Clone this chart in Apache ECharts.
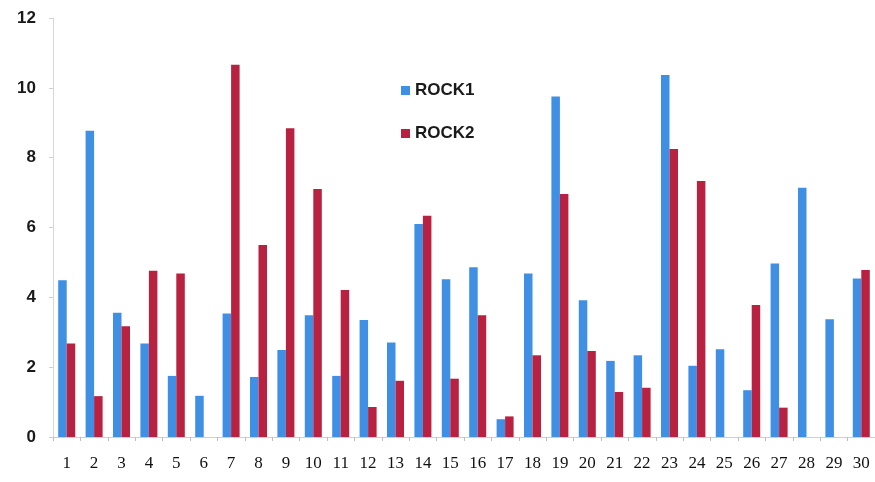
<!DOCTYPE html>
<html>
<head>
<meta charset="utf-8">
<script src="https://cdn.jsdelivr.net/npm/echarts@6/dist/echarts.min.js"></script>
<style>
  html, body { margin: 0; padding: 0; background: #fff; }
  #chart { width: 875px; height: 482px; }
</style>
</head>
<body>
<div id="chart"></div>
<script>
// Sample numbers along the x axis
const categories = ['1','2','3','4','5','6','7','8','9','10','11','12','13','14','15',
                    '16','17','18','19','20','21','22','23','24','25','26','27','28','29','30'];

// Measured values per sample
const rock1 = [4.49, 8.77, 3.56, 2.68, 1.75, 1.18, 3.54, 1.72, 2.49, 3.49,
               1.75, 3.35, 2.71, 6.10, 4.52, 4.86, 0.51, 4.68, 9.75, 3.92,
               2.18, 2.34, 10.37, 2.04, 2.51, 1.34, 4.97, 7.14, 3.37, 4.54];
const rock2 = [2.68, 1.17, 3.17, 4.76, 4.68, 0, 10.66, 5.50, 8.84, 7.10,
               4.21, 0.86, 1.61, 6.34, 1.67, 3.49, 0.59, 2.34, 6.96, 2.46,
               1.29, 1.41, 8.25, 7.33, 0, 3.78, 0.84, 0, 0, 4.78];

// Value axis ticks
const yMin = 0, yMax = 12, yStep = 2;

const chart = echarts.init(document.getElementById('chart'), null, { renderer: 'canvas' });
chart.setOption({
  animation: false,
  backgroundColor: '#ffffff',
  grid: { left: 53, right: 0, top: 18, bottom: 45, containLabel: false },
  legend: {
    orient: 'vertical',
    left: 396,
    top: 77,
    itemWidth: 9,
    itemHeight: 9,
    itemGap: 26,
    icon: 'rect',
    textStyle: { fontFamily: 'Liberation Sans', fontWeight: 'bold', fontSize: 17, color: '#1a1a1a' },
    data: ['ROCK1', 'ROCK2']
  },
  xAxis: {
    type: 'category',
    data: categories,
    axisLine: { lineStyle: { color: '#cfcfcf', width: 1 } },
    axisTick: { show: true, length: 4, lineStyle: { color: '#bdbdbd' } },
    axisLabel: { fontFamily: 'Liberation Serif', fontSize: 17, color: '#111', margin: 18, interval: 0 }
  },
  yAxis: {
    type: 'value',
    min: yMin, max: yMax, interval: yStep,
    axisLine: { show: true, lineStyle: { color: '#d8d8d8', width: 1 } },
    axisTick: { show: true, length: 4, lineStyle: { color: '#cfcfcf' } },
    splitLine: { show: false },
    axisLabel: { fontFamily: 'Liberation Sans', fontWeight: 'bold', fontSize: 17, color: '#1a1a1a', margin: 17 }
  },
  series: [
    { name: 'ROCK1', type: 'bar', data: rock1, barWidth: 8.5, barGap: '0%',
      itemStyle: { color: '#3f8fe4' } },
    { name: 'ROCK2', type: 'bar', data: rock2, barWidth: 8.5,
      itemStyle: { color: '#b8213f' } }
  ]
});
</script>
</body>
</html>
